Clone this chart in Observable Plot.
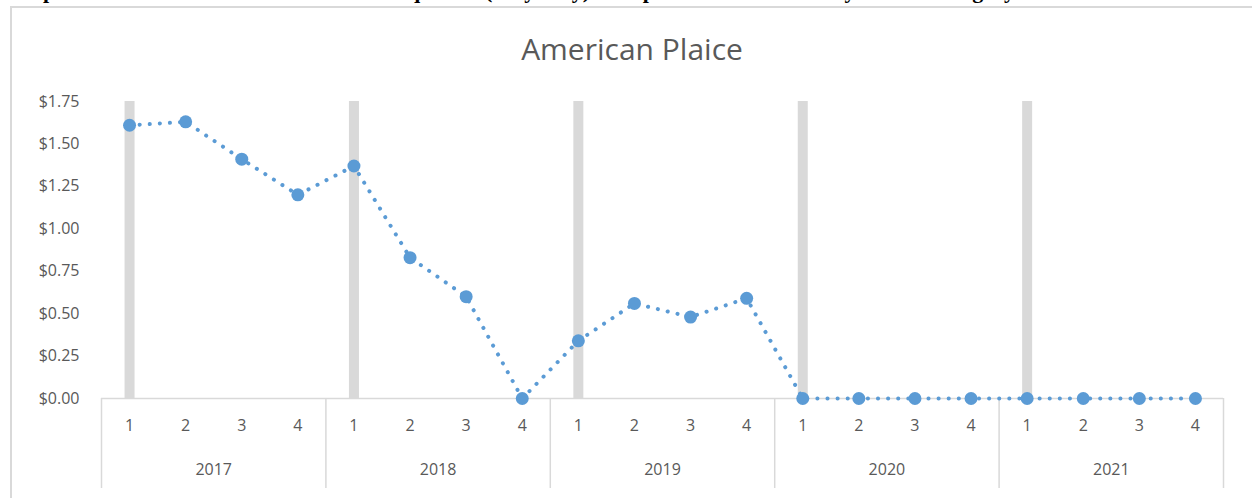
<!DOCTYPE html>
<html>
<head>
<meta charset="utf-8">
<script src="https://cdn.jsdelivr.net/npm/d3@7"></script>
<script src="https://cdn.jsdelivr.net/npm/@observablehq/plot@0.6"></script>
<style>
  html, body { margin: 0; padding: 0; background: #fff; }
  #wrap { position: relative; width: 1252px; height: 498px; overflow: hidden; }
  #caption { position: absolute; left: 4px; top: -21px; white-space: nowrap; line-height: 24px;
    font-family: "Liberation Serif", serif; font-weight: bold; font-size: 22px; color: #000; }
  #frame { position: absolute; left: 10px; top: 6px; width: 1260px; height: 520px;
    border: 2px solid #d9d9d9; box-sizing: border-box; }
  #title { position: absolute; left: 0; width: 1264px; top: 29px; text-align: center;
    font-family: "Open Sans", sans-serif; font-size: 30px; line-height: 40px; color: #595959; }
  #chart { position: absolute; left: 0; top: 0; }
</style>
</head>
<body>
<div id="wrap">
  <div id="caption">compiled for the whole sector. First-season quarter (May-July) base prices are indicated by the vertical gray bars.</div>
  <div id="frame"></div>
  <div id="title">American Plaice</div>
  <div id="chart"></div>
</div>
<script>
const years = ["2017", "2018", "2019", "2020", "2021"];
const quarterLabels = ["1", "2", "3", "4"];
const prices = [
  1.61, 1.63, 1.41, 1.20,
  1.37, 0.83, 0.60, 0.00,
  0.34, 0.56, 0.48, 0.59,
  0.00, 0.00, 0.00, 0.00,
  0.00, 0.00, 0.00, 0.00
];
const baseBars = [1.75, 1.75, 1.75, 1.75, 1.75];
const yTicks = [0, 0.25, 0.5, 0.75, 1.0, 1.25, 1.5, 1.75];

const data = prices.map((p, i) => ({
  pos: i + 0.5,
  quarter: quarterLabels[i % 4],
  year: years[Math.floor(i / 4)],
  price: p
}));
const yearData = years.map((y, j) => ({
  year: y, start: j * 4, mid: j * 4 + 2, bar: baseBars[j]
}));
const separators = d3.range(0, years.length * 4 + 1, 4);

const chart = Plot.plot({
  width: 1252,
  height: 498,
  marginLeft: 101,
  marginRight: 29,
  marginTop: 101,
  marginBottom: 100,
  style: { color: "#595959", fontFamily: "Open Sans, sans-serif", fontSize: "16px", background: "transparent" },
  x: { domain: [0, years.length * 4], axis: null },
  y: { domain: [0, 1.75] },
  marks: [
    Plot.ruleX(yearData, { x: d => d.start + 0.5, y1: 0, y2: "bar", stroke: "#d9d9d9", strokeWidth: 10 }),
    Plot.ruleY([0], { stroke: "#d9d9d9", strokeWidth: 1.5 }),
    Plot.ruleX(separators, { stroke: "#d9d9d9", strokeWidth: 1.5, insetTop: 297, insetBottom: -90 }),
    Plot.line(data, { x: "pos", y: "price", stroke: "#5b9bd5", strokeWidth: 4, strokeDasharray: "0.1 10", strokeLinecap: "round" }),
    Plot.dot(data, { x: "pos", y: "price", r: 6.5, fill: "#5b9bd5" }),
    Plot.text(data, { x: "pos", text: "quarter", frameAnchor: "bottom", dy: 32, fontSize: 16, fill: "#595959" }),
    Plot.text(yearData, { x: "mid", text: "year", frameAnchor: "bottom", dy: 76, fontSize: 16, fill: "#595959" }),
    Plot.axisY({ ticks: yTicks, tickFormat: d => "$" + d.toFixed(2), tickSize: 0, tickPadding: 22, fontSize: 16, label: null })
  ]
});
document.getElementById("chart").appendChild(chart);
</script>
</body>
</html>
